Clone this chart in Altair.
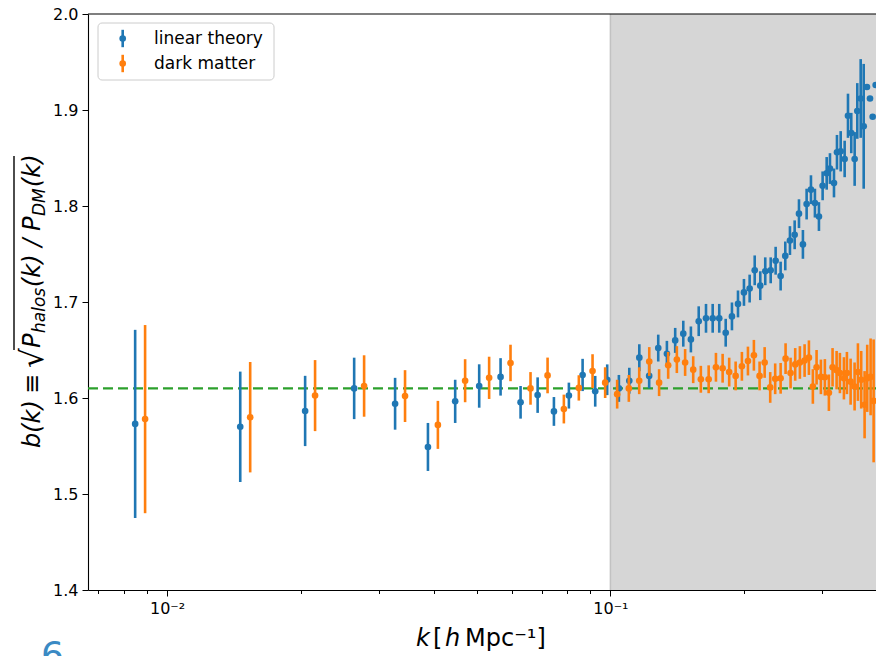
import altair as alt
import pandas as pd

# Wavenumber bins k [h/Mpc] and the measured halo bias in each bin
K = [0.00847, 0.01462, 0.02048, 0.02642, 0.03268, 0.03876, 0.04465, 0.05058,
     0.05652, 0.06271, 0.06852, 0.07457, 0.08060, 0.08655, 0.09241, 0.09835,
     0.1045, 0.1103, 0.1162, 0.1223, 0.1282, 0.1341, 0.1400, 0.1460, 0.1519,
     0.1582, 0.1643, 0.1701, 0.1760, 0.1820, 0.1880, 0.1940, 0.2001, 0.2061,
     0.2116, 0.2178, 0.2235, 0.2299, 0.2359, 0.2421, 0.2480, 0.2541, 0.2604,
     0.2663, 0.2718, 0.2771, 0.2834, 0.2893, 0.2954, 0.3011, 0.3075, 0.3128,
     0.3194, 0.3244, 0.3307, 0.3376, 0.3435, 0.3494, 0.3556, 0.3605, 0.3669,
     0.3727, 0.3791, 0.3851, 0.3905, 0.3966]

LIN_B = [1.573, 1.570, 1.5865, 1.610, 1.594, 1.549, 1.5965, 1.6125,
         1.622, 1.5955, 1.603, 1.586, 1.6025, 1.624, 1.607, 1.619,
         1.610, 1.618, 1.642, 1.623, 1.652, 1.646, 1.660, 1.667, 1.661,
         1.680, 1.683, 1.683, 1.683, 1.668, 1.685, 1.698, 1.710, 1.714,
         1.733, 1.717, 1.732, 1.733, 1.743, 1.727, 1.748, 1.764, 1.770,
         1.792, 1.760, 1.802, 1.817, 1.803, 1.789, 1.821, 1.834, 1.839,
         1.824, 1.856, 1.857, 1.849, 1.894, 1.876, 1.849, 1.899, 1.912,
         1.883, 1.924, 1.912, 1.893, 1.926]
LIN_ERR = [0.098, 0.0575, 0.0366, 0.032, 0.027, 0.025, 0.0225, 0.0226,
           0.0195, 0.017, 0.0185, 0.015, 0.0135, 0.0168, 0.016, 0.016,
           0.014, 0.0135, 0.014, 0.013, 0.014, 0.0135, 0.013, 0.0135, 0.0135,
           0.0155, 0.015, 0.015, 0.015, 0.0145, 0.0145, 0.014, 0.014, 0.0145,
           0.0155, 0.015, 0.0145, 0.0135, 0.0145, 0.015, 0.015, 0.015, 0.015,
           0.015, 0.015, 0.016, 0.015, 0.015, 0.015, 0.015, 0.017, 0.016,
           0.015, 0.018, 0.021, 0.019, 0.023, 0.021, 0.028, 0.029, 0.041,
           0.065, None, None, None, None]

DM_B = [1.578, 1.580, 1.6025, 1.6125, 1.602, 1.572, 1.618, 1.621,
        1.6365, 1.610, 1.6235, 1.5885, 1.6105, 1.628, 1.616, 1.604,
        1.610, 1.618, 1.638, 1.616, 1.634, 1.640, 1.637, 1.6295, 1.6195,
        1.6195, 1.632, 1.631, 1.627, 1.623, 1.633, 1.6385, 1.6445, 1.623,
        1.637, 1.611, 1.620, 1.6205, 1.641, 1.626, 1.635, 1.637, 1.639,
        1.642, 1.612, 1.632, 1.622, 1.6215, 1.6055, 1.632, 1.629, 1.626,
        1.6205, 1.626, 1.617, 1.612, 1.627, 1.619, 1.593, 1.6205, 1.622,
        1.597, None, None, None, None]
DM_ERR = [0.098, 0.0575, 0.037, 0.032, 0.027, 0.025, 0.0224, 0.022,
          0.019, 0.017, 0.0186, 0.015, 0.0132, 0.0176, 0.016, 0.015,
          0.014, 0.014, 0.015, 0.014, 0.014, 0.014, 0.014, 0.014, 0.014,
          0.0145, 0.015, 0.015, 0.015, 0.015, 0.015, 0.015, 0.016, 0.015,
          0.016, 0.016, 0.016, 0.016, 0.016, 0.016, 0.017, 0.017, 0.017,
          0.018, 0.018, 0.018, 0.018, 0.019, 0.019, 0.020, 0.020, 0.021,
          0.022, 0.022, 0.024, 0.025, 0.030, 0.030, 0.035, 0.035, 0.040,
          0.064, None, None, None, None]

SERIES = ["linear theory", "dark matter"]
COLORS = ["#1f77b4", "#ff7f0e"]
B_FIDUCIAL = 1.61       # constant bias reference line
K_NONLINEAR = 0.1       # start of the shaded non-linear range
DM_DODGE = 1.053        # small horizontal shift so the two series don't overlap

FONT = "DejaVu Sans"
W, H = 788, 576

rows = []
for name, bs, es in ((SERIES[0], LIN_B, LIN_ERR), (SERIES[1], DM_B, DM_ERR)):
    for k, b, e in zip(K, bs, es):
        if b is None:
            continue
        rows.append({"series": name, "k": k, "b": b,
                     "err": e if e is not None else float("nan")})
df = pd.DataFrame(rows)

x_scale = alt.Scale(type="log", domain=[0.00663, 0.3973], nice=False)
y_scale = alt.Scale(domain=[1.4, 2.0], nice=False, zero=False)

x_axis = alt.Axis(
    title=None, grid=False,
    values=[0.007, 0.008, 0.009, 0.01, 0.02, 0.03, 0.04, 0.05, 0.06, 0.07,
            0.08, 0.09, 0.1, 0.2, 0.3],
    labelExpr="datum.value == 0.01 ? '10⁻²' : (datum.value == 0.1 ? '10⁻¹' : '')",
    tickSize={"condition": {"test": "datum.value == 0.01 || datum.value == 0.1",
                            "value": 6},
              "value": 3.5},
    labelOverlap=False, labelFlush=False,
    labelFont=FONT, labelFontSize=16, labelColor="black", labelPadding=4,
    domainColor="black", tickColor="black", domainWidth=1.1, tickWidth=1.0,
)
y_axis = alt.Axis(
    title=None, grid=False,
    values=[1.4, 1.5, 1.6, 1.7, 1.8, 1.9, 2.0], format=".1f",
    labelFont=FONT, labelFontSize=16, labelColor="black", labelPadding=4,
    tickSize=6, domainColor="black", tickColor="black",
    domainWidth=1.1, tickWidth=1.0,
)

base = alt.Chart(df).transform_calculate(
    kx=f"datum.series == '{SERIES[1]}' ? datum.k * {DM_DODGE} : datum.k",
    lo="datum.b - datum.err",
    hi="datum.b + datum.err",
)
X = alt.X("kx:Q", scale=x_scale, axis=x_axis)
Y = alt.Y("b:Q", scale=y_scale, axis=y_axis)

first_row = "datum.k == " + str(K[0]) + " && datum.series == '" + SERIES[0] + "'"

shade = alt.Chart(df).mark_rect(color="#d6d6d6").encode(
    x=alt.X(datum=K_NONLINEAR, type="quantitative", scale=x_scale, axis=x_axis),
    x2=alt.value(W), y=alt.value(0), y2=alt.value(H),
).transform_filter(first_row)
shade_edge = alt.Chart(df).mark_rule(color="#c2c2c2", strokeWidth=1.5).encode(
    x=alt.X(datum=K_NONLINEAR, type="quantitative", scale=x_scale, axis=x_axis),
    y=alt.value(0), y2=alt.value(H),
).transform_filter(first_row)
fiducial = alt.Chart(df).mark_rule(color="#2ca02c", strokeWidth=2.4,
                                   strokeDash=[10, 5]).encode(
    y=alt.Y(datum=B_FIDUCIAL, type="quantitative", scale=y_scale, axis=y_axis),
    x=alt.value(0), x2=alt.value(W),
).transform_filter(first_row)

layers = [shade, shade_edge, fiducial]
for name, col in zip(SERIES, COLORS):
    sub = base.transform_filter(f"datum.series == '{name}'")
    bars = sub.transform_filter("isValid(datum.err) && isFinite(datum.err)").mark_rule(
        color=col, strokeWidth=2.6).encode(x=X, y=alt.Y("lo:Q", scale=y_scale, axis=y_axis),
                                           y2="hi:Q")
    dots = sub.mark_circle(color=col, size=44, opacity=1).encode(x=X, y=Y)
    layers += [bars, dots]

ONE = pd.DataFrame({"_": [0]})


def text_at(txt, x, y, size, angle=0, italic=False, color="black",
            align="left", baseline="alphabetic"):
    return alt.Chart(ONE).mark_text(
        align=align, baseline=baseline, angle=angle, font=FONT, fontSize=size,
        fontStyle="italic" if italic else "normal", color=color,
    ).encode(x=alt.value(x), y=alt.value(y), text=alt.value(txt))


# plot frame: top edge
frame_top = alt.Chart(ONE).mark_rule(color="black", strokeWidth=1.1).encode(
    x=alt.value(0), x2=alt.value(W), y=alt.value(0))
layers.append(frame_top)

# legend
legend_box = alt.Chart(ONE).mark_rect(
    fill="white", fillOpacity=0.8, stroke="#cccccc", strokeWidth=1, cornerRadius=4
).encode(x=alt.value(10), x2=alt.value(186), y=alt.value(9), y2=alt.value(66))
layers.append(legend_box)
for i, (name, col) in enumerate(zip(SERIES, COLORS)):
    cy = 24.5 + 25 * i
    layers.append(alt.Chart(ONE).mark_rule(color=col, strokeWidth=2.6).encode(
        x=alt.value(34.7), y=alt.value(cy - 8.7), y2=alt.value(cy + 8.7)))
    layers.append(alt.Chart(ONE).mark_circle(color=col, size=44, opacity=1).encode(
        x=alt.value(34.7), y=alt.value(cy)))
    layers.append(text_at(name, 66, cy, 17, baseline="middle"))

# x-axis title: k [h Mpc^-1]
TS = 24
layers += [
    text_at("k", 328, 632, TS, italic=True),
    text_at("[", 345, 632, TS),
    text_at("h", 357, 632, TS, italic=True),
    text_at("Mpc⁻¹]", 377, 632, TS),
]

# y-axis title: b(k) = sqrt(P_halos(k) / P_DM(k)), written bottom-to-top
BX, SX = -48, -43
layers += [
    text_at("b(k)", BX, 434, TS, angle=270, italic=True),
    text_at("≡", BX, 380, TS, angle=270),
    text_at("√", BX + 3, 354, 31, angle=270),
    text_at("P", BX, 334, TS, angle=270, italic=True),
    text_at("halos", SX, 319, 17, angle=270, italic=True),
    text_at("(k) / P", BX, 273, TS, angle=270, italic=True),
    text_at("DM", SX, 202, 17, angle=270, italic=True),
    text_at("(k)", BX, 173, TS, angle=270, italic=True),
    alt.Chart(ONE).mark_rule(color="black", strokeWidth=1.4).encode(
        x=alt.value(-74), y=alt.value(336), y2=alt.value(142)),
]

# page number fragment below the axes
layers.append(text_at("6", -47, 653, 36, color="#3a8ac4"))

chart = alt.layer(*layers).properties(
    width=W, height=H,
    autosize=alt.AutoSizeParams(type="none"),
    padding={"left": 88, "top": 14, "right": 0, "bottom": 66},
).configure_view(stroke=None)

chart.save("out.html", embed_options={"renderer": "svg", "actions": False})
